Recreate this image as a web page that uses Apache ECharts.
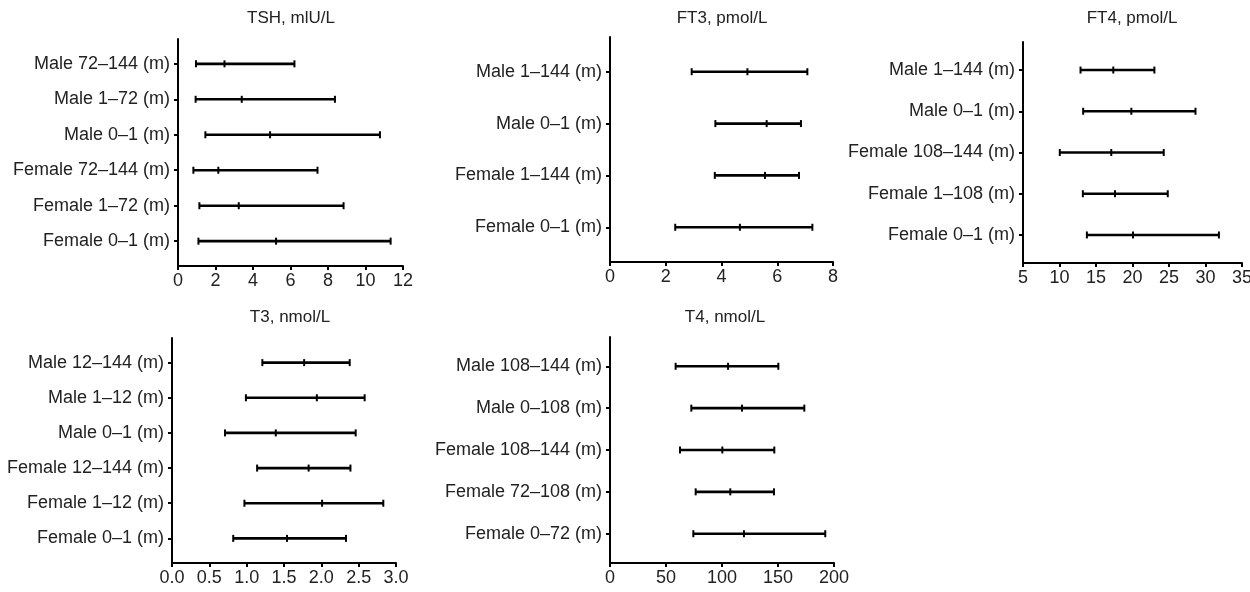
<!DOCTYPE html>
<html>
<head>
<meta charset="utf-8">
<script src="https://cdn.jsdelivr.net/npm/echarts@6/dist/echarts.min.js"></script>
<style>
html,body{margin:0;padding:0;background:#fff;}
#chart{width:1250px;height:592px;}
</style>
</head>
<body>
<div id="chart"></div>
<script>
// ---- DATA ----
var tshCats = ['Male 72\u2013144 (m)', 'Male 1\u201372 (m)', 'Male 0\u20131 (m)', 'Female 72\u2013144 (m)', 'Female 1\u201372 (m)', 'Female 0\u20131 (m)'];
var tshLow  = [0.96, 0.94, 1.46, 0.82, 1.14, 1.09];
var tshMid  = [2.48, 3.40, 4.91, 2.15, 3.24, 5.23];
var tshHigh = [6.21, 8.37, 10.77, 7.44, 8.83, 11.34];

var ft3Cats = ['Male 1\u2013144 (m)', 'Male 0\u20131 (m)', 'Female 1\u2013144 (m)', 'Female 0\u20131 (m)'];
var ft3Low  = [2.93, 3.78, 3.76, 2.34];
var ft3Mid  = [4.93, 5.62, 5.56, 4.66];
var ft3High = [7.08, 6.85, 6.78, 7.26];

var ft4Cats = ['Male 1\u2013144 (m)', 'Male 0\u20131 (m)', 'Female 108\u2013144 (m)', 'Female 1\u2013108 (m)', 'Female 0\u20131 (m)'];
var ft4Low  = [12.88, 13.24, 10.04, 13.20, 13.75];
var ft4Mid  = [17.37, 19.84, 17.09, 17.60, 20.07];
var ft4High = [23.00, 28.63, 24.28, 24.83, 31.84];

var t3Cats = ['Male 12\u2013144 (m)', 'Male 1\u201312 (m)', 'Male 0\u20131 (m)', 'Female 12\u2013144 (m)', 'Female 1\u201312 (m)', 'Female 0\u20131 (m)'];
var t3Low  = [1.21, 0.99, 0.71, 1.14, 0.97, 0.82];
var t3Mid  = [1.77, 1.94, 1.39, 1.83, 2.01, 1.54];
var t3High = [2.38, 2.58, 2.46, 2.39, 2.83, 2.33];

var t4Cats = ['Male 108\u2013144 (m)', 'Male 0\u2013108 (m)', 'Female 108\u2013144 (m)', 'Female 72\u2013108 (m)', 'Female 0\u201372 (m)'];
var t4Low  = [58.6, 72.6, 62.5, 76.5, 74.4];
var t4Mid  = [105.4, 117.9, 100.3, 107.4, 119.6];
var t4High = [150.3, 173.5, 146.7, 146.4, 192.2];

var titles = ['TSH, mlU/L', 'FT3, pmol/L', 'FT4, pmol/L', 'T3, nmol/L', 'T4, nmol/L'];
var xMin = [0, 0, 5, 0, 0];
var xMax = [12, 8, 35, 3, 200];
var xInterval = [2, 2, 5, 0.5, 50];

// ---- LAYOUT ----
var panels = [
  {cats: tshCats, lo: tshLow, mid: tshMid, hi: tshHigh, grid: {left: 178, top: 39, width: 225, height: 227}, pad: 0.7, title: [291, 18], dec: 0},
  {cats: ft3Cats, lo: ft3Low, mid: ft3Mid, hi: ft3High, grid: {left: 610, top: 37, width: 223, height: 225}, pad: 0.67, title: [722, 18], dec: 0},
  {cats: ft4Cats, lo: ft4Low, mid: ft4Mid, hi: ft4High, grid: {left: 1023, top: 42, width: 219, height: 221}, pad: 0.68, title: [1132, 18], dec: 0},
  {cats: t3Cats, lo: t3Low, mid: t3Mid, hi: t3High, grid: {left: 172, top: 338, width: 224, height: 225}, pad: 0.7, title: [290, 317], dec: 1},
  {cats: t4Cats, lo: t4Low, mid: t4Mid, hi: t4High, grid: {left: 610, top: 337, width: 224, height: 226}, pad: 0.7, title: [725, 317], dec: 0}
];

var FONT = '"Liberation Sans", Arial, Helvetica, sans-serif';
var TEXT = '#222';

var grids = [], xAxes = [], yAxes = [], series = [], graphics = [];

panels.forEach(function (p, i) {
  var g = p.grid;
  grids.push({left: g.left, top: g.top, width: g.width, height: g.height, containLabel: false, outerBoundsMode: 'none'});
  var idx = p.cats.map(function (c, k) { return k; });
  xAxes.push({
    type: 'value', gridIndex: i, min: xMin[i], max: xMax[i], interval: xInterval[i],
    splitLine: {show: false},
    axisLine: {show: true, onZero: false, lineStyle: {color: '#000', width: 2}},
    axisTick: {show: true, inside: false, length: 4, lineStyle: {color: '#000', width: 2}},
    axisLabel: {
      color: TEXT, fontSize: 18, fontFamily: FONT, margin: 6,
      showMinLabel: true, showMaxLabel: true,
      formatter: (function (d) { return function (v) { return v.toFixed(d); }; })(p.dec)
    }
  });
  yAxes.push({
    type: 'value', gridIndex: i, inverse: true,
    min: -p.pad, max: p.cats.length - 1 + p.pad,
    splitLine: {show: false},
    axisLine: {show: true, onZero: false, lineStyle: {color: '#000', width: 2}},
    axisTick: {show: true, inside: false, length: 4, customValues: idx, lineStyle: {color: '#000', width: 2}},
    axisLabel: {
      color: TEXT, fontSize: 18, fontFamily: FONT, margin: 8, customValues: idx,
      formatter: (function (cats) { return function (v) { return cats[Math.round(v)]; }; })(p.cats)
    }
  });
  var data = p.cats.map(function (c, k) { return [k, p.lo[k], p.mid[k], p.hi[k]]; });
  series.push({
    type: 'custom', xAxisIndex: i, yAxisIndex: i, data: data,
    encode: {x: [1, 2, 3], y: 0},
    silent: true, clip: false,
    renderItem: function (params, api) {
      var y = api.value(0);
      var a = api.coord([api.value(1), y]);
      var m = api.coord([api.value(2), y]);
      var b = api.coord([api.value(3), y]);
      var h = 3.5;
      var st = {stroke: '#000', lineWidth: 2};
      return {type: 'group', children: [
        {type: 'line', shape: {x1: a[0], y1: a[1], x2: b[0], y2: b[1]}, style: {stroke: '#000', lineWidth: 2.6}},
        {type: 'line', shape: {x1: a[0], y1: a[1] - h, x2: a[0], y2: a[1] + h}, style: st},
        {type: 'line', shape: {x1: m[0], y1: m[1] - h, x2: m[0], y2: m[1] + h}, style: st},
        {type: 'line', shape: {x1: b[0], y1: b[1] - h, x2: b[0], y2: b[1] + h}, style: st}
      ]};
    }
  });
  graphics.push({
    type: 'text', x: p.title[0], y: p.title[1], silent: true,
    style: {text: titles[i], fill: TEXT, font: '17px ' + FONT, textAlign: 'center', textVerticalAlign: 'middle'}
  });
});

var chart = echarts.init(document.getElementById('chart'), null, {renderer: 'canvas'});
chart.setOption({
  animation: false,
  backgroundColor: '#fff',
  grid: grids,
  xAxis: xAxes,
  yAxis: yAxes,
  series: series,
  graphic: graphics
});
</script>
</body>
</html>
